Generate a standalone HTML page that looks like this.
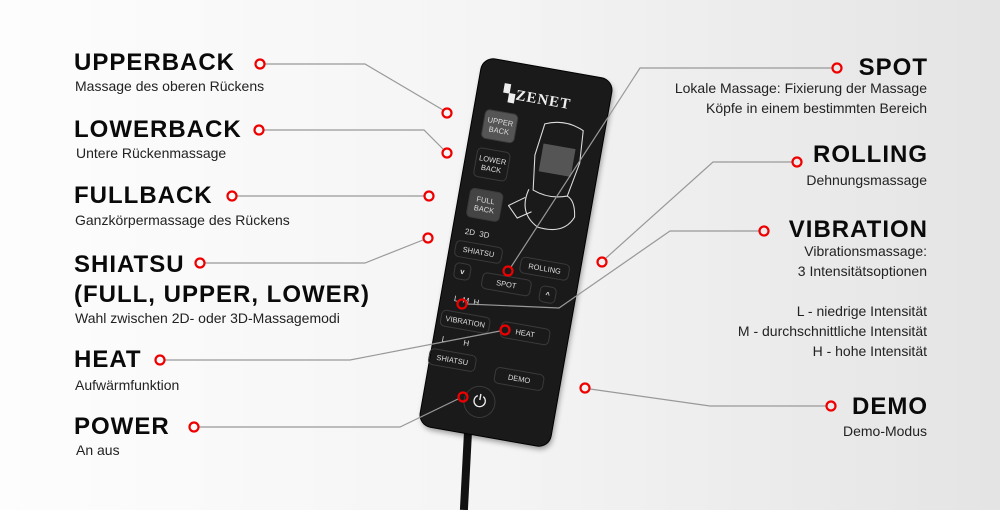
<!DOCTYPE html>
<html><head><meta charset="utf-8"><style>
*{margin:0;padding:0;box-sizing:border-box}
body{width:1000px;height:500px;overflow:hidden;background:linear-gradient(90deg,#fdfdfd 0%,#f4f4f4 50%,#e4e4e4 100%);font-family:"Liberation Sans",sans-serif;position:relative}
.t{position:absolute;font-weight:bold;font-size:24px;color:#0a0a0a;letter-spacing:1px;line-height:26px}
.s{position:absolute;font-size:14px;color:#222;line-height:20px}
.r{text-align:right}
#remote{position:absolute;left:450px;top:66px;width:132px;height:373px;background:#1a1a1a;border-radius:12px;transform:rotate(10deg);transform-origin:50% 50%;box-shadow:0 0 0 1px #000,2px 3px 6px rgba(0,0,0,.4);color:#ddd;font-size:7.5px;}
.b{position:absolute;border:1px solid #3a3a3a;border-radius:5px;text-align:center;line-height:9px;display:flex;align-items:center;justify-content:center;color:#ddd}
.l{position:absolute;color:#ddd;font-size:8px}
</style></head><body>
<div id="cable" style="position:absolute;left:462px;top:430px;width:8px;height:80px;background:#111;transform:rotate(3deg)"></div>
<div id="remote">
 <div class="l" style="left:26px;top:22px;font-family:'Liberation Serif',serif;font-size:15px;font-weight:bold;color:#eee;letter-spacing:1px">▚ZENET</div>
 <div class="b" style="left:11px;top:50px;width:34px;height:30px;background:#555">UPPER<br>BACK</div>
 <div class="b" style="left:10px;top:89px;width:34px;height:30px">LOWER<br>BACK</div>
 <div class="b" style="left:10px;top:130px;width:34px;height:30px;background:#444">FULL<br>BACK</div>
 <div class="l" style="left:12px;top:170px">2D &nbsp;3D</div>
 <div class="b" style="left:5px;top:184px;width:48px;height:17px">SHIATSU</div>
 <div class="b" style="left:72px;top:189px;width:50px;height:17px">ROLLING</div>
 <div class="b" style="left:8px;top:206px;width:17px;height:17px;font-weight:bold">v</div>
 <div class="b" style="left:37px;top:211px;width:50px;height:17px">SPOT</div>
 <div class="b" style="left:96px;top:214px;width:17px;height:17px;font-weight:bold">^</div>
 <div class="l" style="left:13px;top:238px">L &nbsp;M &nbsp;H</div>
 <div class="b" style="left:3px;top:255px;width:50px;height:17px">VIBRATION</div>
 <div class="b" style="left:64px;top:256px;width:50px;height:17px">HEAT</div>
 <div class="l" style="left:8px;top:280px">L &nbsp;&nbsp;&nbsp;&nbsp;&nbsp;&nbsp;&nbsp;H</div>
 <div class="b" style="left:-2px;top:295px;width:48px;height:17px">SHIATSU</div>
 <div class="b" style="left:66px;top:302px;width:50px;height:17px">DEMO</div>
 <div style="position:absolute;left:40px;top:324px;width:32px;height:32px;border-radius:50%;border:1px solid #3a3a3a;color:#eee;font-size:17px;text-align:center;line-height:30px">⏻</div>
 <svg style="position:absolute;left:50px;top:44px" width="82" height="130" viewBox="0 0 75 120" fill="none" stroke="#ddd" stroke-width="1">
  <path d="M20 10 Q38 2 56 10 L58 40 L52 72 Q36 78 20 72 L16 40 Z"/>
  <rect x="22" y="28" width="30" height="26" fill="#555" stroke="none"/>
  <path d="M16 72 Q10 95 30 105 Q55 108 62 90 Q60 75 52 72"/>
  <path d="M14 80 L0 90 L10 100 L22 92"/>
 </svg>
</div>
<svg style="position:absolute;left:0;top:0" width="1000" height="500" fill="none">
 <g stroke="#999" stroke-width="1.2">
  <polyline points="265,64 365,64 443,110"/>
  <polyline points="264,130 424,130 443,149"/>
  <polyline points="237,196 424,196"/>
  <polyline points="205,263 365,263 423,240"/>
  <polyline points="165,360 350,360 500,331"/>
  <polyline points="199,427 400,427 458,399"/>
  <polyline points="832,68 640,68 511,267"/>
  <polyline points="792,162 713,162 606,258"/>
  <polyline points="759,231 670,231 559,308 467,304"/>
  <polyline points="826,406 710,406 590,389"/>
 </g>
 <g stroke="#e00" stroke-width="2.2" fill="none">
  <circle cx="260" cy="64" r="4.5"/><circle cx="447" cy="113" r="4.5"/>
  <circle cx="259" cy="130" r="4.5"/><circle cx="447" cy="153" r="4.5"/>
  <circle cx="232" cy="196" r="4.5"/><circle cx="429" cy="196" r="4.5"/>
  <circle cx="200" cy="263" r="4.5"/><circle cx="428" cy="238" r="4.5"/>
  <circle cx="160" cy="360" r="4.5"/><circle cx="505" cy="330" r="4.5"/>
  <circle cx="194" cy="427" r="4.5"/><circle cx="463" cy="397" r="4.5"/>
  <circle cx="837" cy="68" r="4.5"/><circle cx="508" cy="271" r="4.5"/>
  <circle cx="797" cy="162" r="4.5"/><circle cx="602" cy="262" r="4.5"/>
  <circle cx="764" cy="231" r="4.5"/><circle cx="462" cy="304" r="4.5"/>
  <circle cx="831" cy="406" r="4.5"/><circle cx="585" cy="388" r="4.5"/>
 </g>
</svg>
<div class="t" style="left:74px;top:50px">UPPERBACK</div>
<div class="s" style="left:75px;top:76px">Massage des oberen Rückens</div>
<div class="t" style="left:74px;top:117px">LOWERBACK</div>
<div class="s" style="left:76px;top:143px">Untere Rückenmassage</div>
<div class="t" style="left:74px;top:183px">FULLBACK</div>
<div class="s" style="left:75px;top:210px">Ganzkörpermassage des Rückens</div>
<div class="t" style="left:74px;top:250px;line-height:30px">SHIATSU<br>(FULL, UPPER, LOWER)</div>
<div class="s" style="left:75px;top:308px">Wahl zwischen 2D- oder 3D-Massagemodi</div>
<div class="t" style="left:74px;top:347px">HEAT</div>
<div class="s" style="left:75px;top:375px">Aufwärmfunktion</div>
<div class="t" style="left:74px;top:414px">POWER</div>
<div class="s" style="left:76px;top:440px">An aus</div>
<div class="t r" style="right:72px;top:55px">SPOT</div>
<div class="s r" style="right:73px;top:78px">Lokale Massage: Fixierung der Massage<br>Köpfe in einem bestimmten Bereich</div>
<div class="t r" style="right:72px;top:142px">ROLLING</div>
<div class="s r" style="right:73px;top:170px">Dehnungsmassage</div>
<div class="t r" style="right:72px;top:217px">VIBRATION</div>
<div class="s r" style="right:73px;top:241px;line-height:20px">Vibrationsmassage:<br>3 Intensitätsoptionen<br><br>L - niedrige Intensität<br>M - durchschnittliche Intensität<br>H - hohe Intensität</div>
<div class="t r" style="right:72px;top:394px">DEMO</div>
<div class="s r" style="right:73px;top:421px">Demo-Modus</div>
</body></html>
